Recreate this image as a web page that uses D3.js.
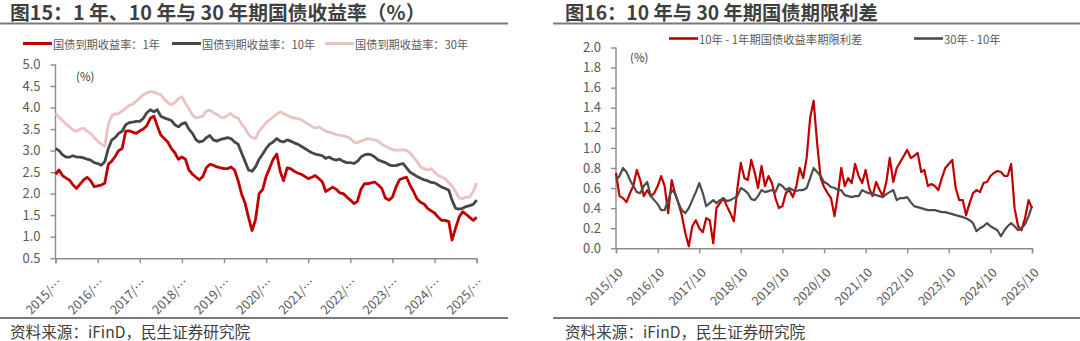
<!DOCTYPE html>
<html><head><meta charset="utf-8">
<script src="https://cdn.jsdelivr.net/npm/d3@7"></script>
<style>
html,body{margin:0;padding:0;background:#fff;}
svg{display:block;font-family:"Noto Sans CJK SC","Noto Sans",sans-serif;}
</style></head>
<body>
<svg id="c" width="1080" height="341"></svg>
<script>
// ---------- data ----------
const tickYears = [2015,2016,2017,2018,2019,2020,2021,2022,2023,2024,2025];
const leftTickLabels = tickYears.map(y => y + "/…");
const rightTickLabels = tickYears.map(y => y + "/10");
const leftYTicks = [0.5,1.0,1.5,2.0,2.5,3.0,3.5,4.0,4.5,5.0];
const rightYTicks = [0.0,0.2,0.4,0.6,0.8,1.0,1.2,1.4,1.6,1.8,2.0];
const firstMonth = "2015-10", lastMonth = "2025-10";   // monthly samples, 121 points

// 1Y, 10Y, 30Y government bond yields (%), month-end readings
const yield1Y = [2.45,2.55,2.42,2.36,2.31,2.20,2.12,2.22,2.32,2.38,
 2.30,2.16,2.18,2.20,2.24,2.68,2.76,2.86,3.00,3.05,
 3.45,3.46,3.43,3.40,3.46,3.50,3.58,3.75,3.80,3.58,
 3.36,3.28,3.20,3.05,2.95,2.80,2.85,2.80,2.55,2.45,
 2.38,2.32,2.40,2.60,2.68,2.66,2.62,2.60,2.58,2.58,
 2.62,2.55,2.30,2.00,1.78,1.45,1.14,1.40,2.00,2.10,
 2.40,2.60,2.80,2.92,2.50,2.30,2.60,2.58,2.52,2.48,
 2.45,2.40,2.35,2.38,2.42,2.35,2.27,2.05,2.10,2.15,
 2.10,2.02,2.00,1.92,1.85,1.77,1.82,2.10,2.23,2.23,
 2.25,2.27,2.20,2.12,1.90,1.85,1.92,2.15,2.32,2.36,
 2.38,2.20,2.05,1.88,1.80,1.76,1.66,1.60,1.55,1.45,
 1.38,1.38,1.35,0.92,1.20,1.45,1.58,1.52,1.45,1.38,1.45];
const yield10Y = [3.05,3.00,2.90,2.85,2.85,2.88,2.85,2.85,2.83,2.80,
 2.78,2.72,2.70,2.66,2.74,3.05,3.25,3.30,3.40,3.45,
 3.60,3.65,3.66,3.68,3.68,3.75,3.88,3.95,3.90,3.95,
 3.80,3.76,3.73,3.70,3.60,3.55,3.62,3.65,3.50,3.40,
 3.25,3.20,3.22,3.30,3.35,3.25,3.22,3.26,3.28,3.30,
 3.28,3.20,3.15,2.95,2.75,2.55,2.52,2.62,2.80,2.92,
 3.05,3.15,3.20,3.28,3.22,3.20,3.25,3.22,3.18,3.15,
 3.10,3.05,3.00,2.95,2.92,2.90,2.88,2.82,2.85,2.80,
 2.78,2.80,2.75,2.72,2.72,2.70,2.75,2.85,2.90,2.92,
 2.90,2.85,2.78,2.75,2.72,2.67,2.65,2.65,2.68,2.70,
 2.60,2.50,2.45,2.40,2.36,2.32,2.30,2.26,2.25,2.20,
 2.15,2.12,2.08,1.85,1.66,1.64,1.66,1.70,1.72,1.75,1.85];
const yield30Y = [3.86,3.78,3.70,3.62,3.55,3.48,3.45,3.50,3.52,3.45,
 3.40,3.30,3.22,3.15,3.10,3.60,3.82,3.85,3.86,3.92,
 3.98,4.05,4.08,4.15,4.22,4.30,4.34,4.37,4.36,4.33,
 4.30,4.20,4.12,4.06,4.12,4.20,4.25,4.10,3.98,3.82,
 3.76,3.78,3.80,3.92,3.94,3.88,3.84,3.78,3.76,3.82,
 3.86,3.78,3.75,3.62,3.52,3.38,3.30,3.28,3.45,3.55,
 3.65,3.72,3.78,3.85,3.90,3.86,3.82,3.78,3.76,3.74,
 3.72,3.66,3.62,3.56,3.52,3.55,3.50,3.45,3.43,3.40,
 3.37,3.36,3.34,3.32,3.28,3.20,3.18,3.22,3.25,3.28,
 3.26,3.25,3.22,3.15,3.10,3.06,3.02,3.01,3.01,3.02,
 3.00,2.95,2.85,2.75,2.62,2.58,2.55,2.58,2.50,2.42,
 2.38,2.35,2.25,2.18,2.05,1.90,1.88,1.92,1.92,2.05,2.25];

// term spreads (%)
const spread10m1 = [0.75,0.52,0.50,0.46,0.55,0.62,0.78,0.68,0.52,0.58,
 0.52,0.55,0.62,0.72,0.62,0.35,0.68,0.55,0.45,0.33,
 0.15,0.02,0.22,0.28,0.20,0.16,0.30,0.28,0.05,0.40,
 0.45,0.50,0.42,0.35,0.27,0.60,0.85,0.70,0.68,0.88,
 0.75,0.60,0.82,0.62,0.72,0.65,0.50,0.40,0.42,0.55,
 0.58,0.51,0.62,0.80,0.70,0.90,1.30,1.47,1.05,0.70,
 0.61,0.55,0.50,0.32,0.55,0.80,0.62,0.70,0.65,0.84,
 0.72,0.65,0.78,0.60,0.52,0.66,0.58,0.52,0.66,0.90,
 0.66,0.80,0.86,0.92,0.98,0.90,0.92,0.95,0.76,0.78,
 0.62,0.64,0.62,0.58,0.70,0.80,0.84,0.88,0.60,0.48,
 0.48,0.33,0.45,0.55,0.58,0.56,0.65,0.66,0.72,0.75,
 0.77,0.76,0.72,0.72,0.84,0.40,0.22,0.18,0.30,0.48,0.40];
const spread30m10 = [0.68,0.72,0.80,0.76,0.68,0.62,0.56,0.55,0.62,0.66,
 0.52,0.48,0.44,0.38,0.38,0.48,0.58,0.55,0.45,0.38,
 0.35,0.40,0.48,0.56,0.65,0.55,0.42,0.45,0.48,0.45,
 0.48,0.50,0.47,0.48,0.50,0.52,0.60,0.58,0.55,0.49,
 0.48,0.52,0.58,0.56,0.57,0.58,0.56,0.64,0.62,0.58,
 0.60,0.58,0.57,0.58,0.58,0.60,0.70,0.80,0.76,0.72,
 0.66,0.64,0.61,0.60,0.58,0.58,0.53,0.52,0.51,0.52,
 0.52,0.58,0.56,0.55,0.54,0.53,0.52,0.51,0.54,0.56,
 0.58,0.48,0.50,0.50,0.51,0.46,0.42,0.41,0.40,0.39,
 0.38,0.38,0.38,0.37,0.36,0.36,0.35,0.34,0.33,0.32,
 0.31,0.30,0.28,0.25,0.17,0.20,0.22,0.25,0.22,0.20,
 0.18,0.12,0.18,0.22,0.25,0.22,0.18,0.20,0.24,0.32,0.42];

const leftLegend = ["国债到期收益率：1年","国债到期收益率：10年","国债到期收益率：30年"];
const rightLegend = ["10年 - 1年期国债收益率期限利差","30年 - 10年"];

// ---------- drawing ----------
const svg = d3.select("#c");
const pm = d3.timeParse("%Y-%m");
const months = d3.timeMonth.range(pm(firstMonth), d3.timeMonth.offset(pm(lastMonth), 1));
const tickDates = tickYears.map(y => new Date(y, 9, 1));

const RED = "#C00000", DGRAY = "#474747", PINK = "#E9C3C2", AXIS = "#8c8c8c", TXT = "#595959";

function panel(o) {
  const x = d3.scaleTime().domain([months[0], months[months.length - 1]]).range([o.x0, o.x1]);
  const y = d3.scaleLinear().domain(o.yDomain).range([o.yBottom, o.yTop]);
  const g = svg.append("g");
  const ya = g.append("g").attr("transform", `translate(${o.x0},0)`)
    .call(d3.axisLeft(y).tickValues(o.yTicks).tickFormat(d3.format(".1f")).tickSizeOuter(0).tickSize(5).tickPadding(10));
  const xa = g.append("g").attr("transform", `translate(0,${o.yBottom})`)
    .call(d3.axisBottom(x).tickValues(tickDates).tickFormat((d,i) => o.xLabels[i]).tickSizeOuter(0).tickSize(5));
  [ya, xa].forEach(a => {
    a.select(".domain").attr("stroke", AXIS).attr("stroke-width", 1.4);
    a.selectAll(".tick line").attr("stroke", AXIS).attr("stroke-width", 1.4);
    a.selectAll("text").attr("fill", TXT).attr("font-size", 13).attr("font-family", '"Noto Sans CJK SC",sans-serif');
  });
  ya.select(".domain").attr("d", `M0,${o.yBottom}V${o.yTop}`);
  xa.selectAll(".tick text")
    .attr("text-anchor", "end").attr("dy", "0.35em").attr("y", 0)
    .attr("transform", "translate(4,22) rotate(-45)")
    .attr("font-size", 12.5);
  o.series.forEach(s => {
    g.append("path")
      .datum(s.values.map((v, i) => [months[i], v]))
      .attr("fill", "none").attr("stroke", s.color).attr("stroke-width", s.width)
      .attr("stroke-linejoin", "round")
      .attr("d", d3.line().x(d => x(d[0])).y(d => y(d[1])));
  });
  g.append("text").attr("x", o.unitX).attr("y", o.unitY).attr("font-size", 11.5)
    .attr("fill", "#404040").attr("dominant-baseline", "central").text("(%)");
  o.legend.forEach(L => {
    g.append("line").attr("x1", L.x).attr("x2", L.x + 29).attr("y1", o.legendY).attr("y2", o.legendY)
      .attr("stroke", L.color).attr("stroke-width", o.legendW);
    g.append("text").attr("x", L.x + 30).attr("y", o.legendY).attr("dominant-baseline", "central")
      .attr("font-size", o.legendFont).attr("fill", TXT).text(L.label);
  });
}

panel({
  x0: 55.5, x1: 476.7, yTop: 64.5, yBottom: 258.2, yDomain: [0.5, 5.0], yTicks: leftYTicks,
  xLabels: leftTickLabels, unitX: 76, unitY: 75.5,
  series: [
    {values: yield1Y, color: RED, width: 2.8},
    {values: yield10Y, color: DGRAY, width: 2.8},
    {values: yield30Y, color: PINK, width: 2.8}
  ],
  legendY: 43.5, legendW: 3, legendFont: 11.2,
  legend: [
    {x: 23, color: RED, label: leftLegend[0]},
    {x: 172, color: DGRAY, label: leftLegend[1]},
    {x: 325, color: PINK, label: leftLegend[2]}
  ]
});

panel({
  x0: 616, x1: 1032, yTop: 47.5, yBottom: 248.3, yDomain: [0, 2.0], yTicks: rightYTicks,
  xLabels: rightTickLabels, unitX: 630, unitY: 57,
  series: [
    {values: spread10m1, color: RED, width: 2.2},
    {values: spread30m10, color: "#4d4d4d", width: 2.2}
  ],
  legendY: 38.5, legendW: 2.6, legendFont: 11.3,
  legend: [
    {x: 669, color: RED, label: rightLegend[0]},
    {x: 914, color: "#4d4d4d", label: rightLegend[1]}
  ]
});

const titles = [
  {x: 10, size: 19.8, text: "图15：1 年、10 年与 30 年期国债收益率（%）", r0: 0, r1: 508, sx: 10},
  {x: 565, size: 19.3, text: "图16：10 年与 30 年期国债期限利差", r0: 553, r1: 1080, sx: 565}
];
titles.forEach(t => {
  svg.append("text").attr("x", t.x).attr("y", 19.5).attr("font-size", t.size).attr("font-weight", "bold")
    .attr("fill", "#3f3f3f").text(t.text);
  svg.append("line").attr("x1", t.r0).attr("x2", t.r1).attr("y1", 23.5).attr("y2", 23.5)
    .attr("stroke", "#7a7a7a").attr("stroke-width", 2);
  svg.append("line").attr("x1", t.r0).attr("x2", t.r1).attr("y1", 318).attr("y2", 318)
    .attr("stroke", "#7a7a7a").attr("stroke-width", 2);
  svg.append("text").attr("x", t.sx).attr("y", 338).attr("font-size", 15.6)
    .attr("fill", "#404040").text("资料来源：iFinD，民生证券研究院");
});
</script>
</body></html>
